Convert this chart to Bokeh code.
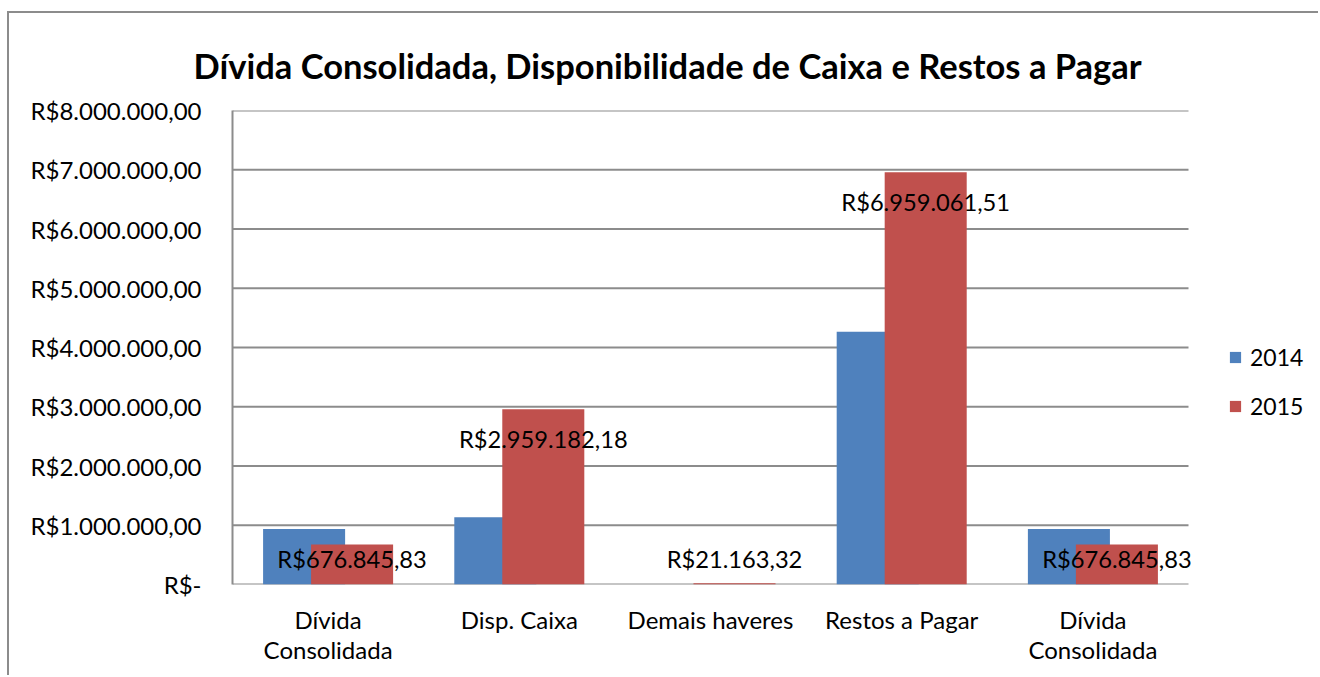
from bokeh.plotting import figure
from bokeh.models import FixedTicker, Legend, LegendItem, ColumnDataSource, Range1d
from bokeh.core.properties import value
from bokeh.embed import file_html
from bokeh.resources import INLINE

# ---- data ----
categories = ["Dívida\nConsolidada", "Disp. Caixa", "Demais haveres", "Restos a Pagar", "Dívida\nConsolidada"]
series_names = ["2014", "2015"]
values_2014 = [935000, 1135000, 0, 4265000, 935000]
values_2015 = [676845.83, 2959182.18, 21163.32, 6959061.51, 676845.83]
labels_2015 = ["R$676.845,83", "R$2.959.182,18", "R$21.163,32", "R$6.959.061,51", "R$676.845,83"]
y_ticks = [0, 1000000, 2000000, 3000000, 4000000, 5000000, 6000000, 7000000, 8000000]
y_tick_labels = ["R$-", "R$1.000.000,00", "R$2.000.000,00", "R$3.000.000,00", "R$4.000.000,00",
                 "R$5.000.000,00", "R$6.000.000,00", "R$7.000.000,00", "R$8.000.000,00"]
title_text = "Dívida Consolidada, Disponibilidade de Caixa e Restos a Pagar"

# ---- styles ----
FONT = "Lato"
BLUE = "#4F81BD"
RED = "#C0504D"
GRID = "#8C8C8C"

W, H = 1311, 664
LEFT, TOP, BOTTOM = 223, 97, 93
frame_w = W - LEFT          # frame runs to the right edge so the legend is not clipped
plot_w = 956                # width of the category area
frame_h = 474
px = 8000000 / frame_h

n = len(categories)
xs = [2 * i + 1 for i in range(n)]
x_end = 2 * n * frame_w / plot_w
off = 0.251
bw = 0.858

src = ColumnDataSource(dict(
    x14=[x - off for x in xs],
    x15=[x + off for x in xs],
    v14=values_2014,
    v15=values_2015,
    lab=labels_2015,
    ly=[max(v - 30 * px, 26 * px) for v in values_2015],
))
grid_src = ColumnDataSource(dict(y=y_ticks, x0=[0] * len(y_ticks), x1=[2 * n] * len(y_ticks)))

p = figure(width=W, height=H, output_backend="svg", toolbar_location=None,
           x_range=Range1d(0, x_end), y_range=Range1d(0, 8000000),
           min_border_left=LEFT, min_border_right=0, min_border_top=TOP, min_border_bottom=BOTTOM)
p.margin = (11, 0, 0, 7)
p.styles = {"border-top": "2px solid #8C8C8C", "border-left": "2px solid #8C8C8C"}
p.outline_line_color = None
p.background_fill_color = "white"
p.border_fill_color = "white"

# horizontal gridlines limited to the category area
p.segment(x0="x0", x1="x1", y0="y", y1="y", source=grid_src, line_color=GRID, line_width=2)

r14 = p.vbar(x="x14", top="v14", width=bw, source=src, fill_color=BLUE, line_color=None)
r15 = p.vbar(x="x15", top="v15", width=bw, source=src, fill_color=RED, line_color=None)

p.text(x="x15", y="ly", text="lab", source=src, text_align="center",
       text_baseline="middle", text_font=value(FONT), text_font_size="23.7px", text_color="black")

# title
p.title.text = title_text
p.title.text_font = FONT
p.title.text_font_size = "34.5px"
p.title.text_font_style = "bold"
p.title.text_color = "black"
p.title.align = "left"
p.title.offset = -39
p.title.vertical_align = "bottom"
p.title.standoff = 50

# axes
p.xaxis.ticker = FixedTicker(ticks=xs)
p.xaxis.major_label_overrides = {x: c for x, c in zip(xs, categories)}
p.yaxis.ticker = FixedTicker(ticks=y_ticks)
p.yaxis.major_label_overrides = {t: s for t, s in zip(y_ticks, y_tick_labels)}
for ax in (p.xaxis, p.yaxis):
    ax.major_tick_line_color = None
    ax.minor_tick_line_color = None
    ax.major_label_text_font = FONT
    ax.major_label_text_color = "black"
p.xaxis.axis_line_color = None
p.yaxis.axis_line_color = GRID
p.yaxis.axis_line_width = 2
p.yaxis.major_label_text_font_size = "24px"
p.yaxis.major_label_standoff = 25
p.xaxis.major_label_text_font_size = "24px"
p.xaxis.major_label_standoff = 14
p.xaxis.major_label_text_line_height = 1.05

p.xgrid.grid_line_color = None
p.ygrid.grid_line_color = None

legend = Legend(items=[LegendItem(label=series_names[0], renderers=[r14]),
                       LegendItem(label=series_names[1], renderers=[r15])],
                location=(996, 164))
legend.glyph_width = 14
legend.glyph_height = 14
legend.label_height = 20
legend.spacing = 21
legend.padding = 0
legend.margin = 0
legend.label_standoff = 8
legend.label_text_font = FONT
legend.label_text_font_size = "23px"
legend.label_text_color = "black"
legend.border_line_alpha = 0
legend.background_fill_alpha = 0
p.add_layout(legend)

open("out.html", "w").write(file_html(p, INLINE))
